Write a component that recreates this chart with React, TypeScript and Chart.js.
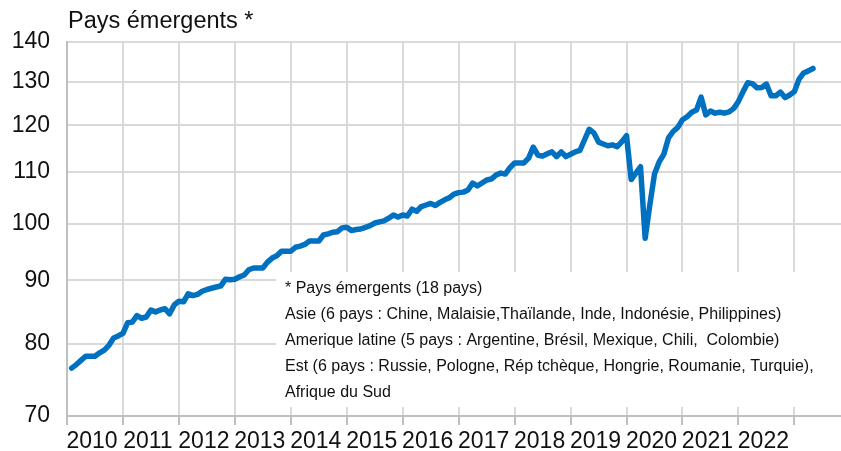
import React, { useEffect, useRef } from "react";
import { Chart, registerables } from "chart.js";

Chart.register(...registerables);

// Monthly index, from Feb 2010 (month 1 after Jan 2010) to May 2023
const firstMonth = 1;
const indexValues: number[] = [
  76.5, 77.0, 77.6, 78.2, 78.2, 78.2, 78.7, 79.1, 79.8, 80.9, 81.2, 81.6,
  83.2, 83.3, 84.3, 83.9, 84.1, 85.2, 84.9, 85.2, 85.4, 84.6, 86.0, 86.6,
  86.5, 87.8, 87.5, 87.7, 88.2, 88.5, 88.7, 88.9, 89.1, 90.2, 90.1, 90.2,
  90.6, 90.9, 91.8, 92.1, 92.1, 92.1, 93.1, 93.8, 94.2, 95.0, 95.0, 95.0,
  95.7, 95.9, 96.2, 96.8, 96.8, 96.8, 97.9, 98.1, 98.4, 98.5, 99.2, 99.3,
  98.7, 98.9, 99.0, 99.3, 99.6, 100.1, 100.3, 100.5, 101.0, 101.6, 101.2, 101.6,
  101.4, 102.7, 102.3, 103.2, 103.5, 103.8, 103.4, 104.0, 104.5, 104.9, 105.6, 105.9,
  106.0, 106.4, 107.8, 107.2, 107.8, 108.4, 108.6, 109.4, 109.8, 109.6, 110.9, 111.9,
  111.9, 111.9, 112.9, 115.2, 113.5, 113.3, 113.8, 114.2, 113.2, 114.2, 113.2, 113.7,
  114.2, 114.5, 116.8, 119.1, 118.3, 116.3, 115.9, 115.5, 115.7, 115.3, 116.4, 117.7,
  108.5, 109.8, 111.1, 97.3, 103.5, 109.6, 112.1, 113.7, 117.2, 118.6, 119.5, 121.2,
  121.9, 122.9, 123.4, 126.4, 122.3, 123.2, 122.7, 122.9, 122.7, 123.0, 123.8, 125.4,
  127.7, 129.8, 129.6, 128.6, 128.7, 129.5, 126.7, 126.7, 127.6, 126.3, 126.9, 127.7,
  130.7, 132.2, 132.7, 133.3,
];

const firstYear = 2010;
const yearLabels: string[] = [
  "2010", "2011", "2012", "2013", "2014", "2015", "2016",
  "2017", "2018", "2019", "2020", "2021", "2022",
];
const yTicks: number[] = [70, 80, 90, 100, 110, 120, 130, 140];

const titleText = "Pays émergents *";
const noteLines: string[] = [
  "* Pays émergents (18 pays)",
  "Asie (6 pays : Chine, Malaisie,Thaïlande, Inde, Indonésie, Philippines)",
  "Amerique latine (5 pays : Argentine, Brésil, Mexique, Chili,  Colombie)",
  "Est (6 pays : Russie, Pologne, Rép tchèque, Hongrie, Roumanie, Turquie),",
  "Afrique du Sud",
];

const FONT = '"Liberation Sans", Arial, sans-serif';
const GRID = "#d9d9d9";
const AXIS = "#bfbfbf";
const TEXT = "#111111";

export default function App() {
  const ref = useRef<HTMLCanvasElement | null>(null);

  useEffect(() => {
    if (!ref.current) return;
    const points = indexValues.map((v, i) => ({ x: firstMonth + i, y: v }));

    const overlay = {
      id: "overlay",
      beforeDatasetsDraw(chart: any) {
        const ctx = chart.ctx;
        ctx.save();
        ctx.fillStyle = "#ffffff";
        ctx.fillRect(276, 272, 841 - 276, 407 - 272);
        ctx.fillStyle = TEXT;
        ctx.font = `16px ${FONT}`;
        ctx.textBaseline = "middle";
        ctx.textAlign = "left";
        noteLines.forEach((t, i) => {
          ctx.fillText(t, 285, 289 + i * 26);
        });
        ctx.restore();
      },
      afterDraw(chart: any) {
        const ctx = chart.ctx;
        ctx.save();
        ctx.fillStyle = TEXT;
        ctx.font = `23.5px ${FONT}`;
        ctx.textBaseline = "alphabetic";
        ctx.textAlign = "left";
        ctx.fillText(titleText, chart.chartArea.left + 1, 28);
        ctx.restore();
      },
    };

    const chart = new Chart(ref.current, {
      type: "line",
      data: {
        datasets: [
          {
            data: points,
            borderColor: "#0070C0",
            borderWidth: 5.5,
            borderJoinStyle: "round",
            borderCapStyle: "round",
            pointRadius: 0,
            tension: 0,
            fill: false,
          },
        ],
      },
      options: {
        animation: false,
        responsive: false,
        maintainAspectRatio: false,
        layout: { padding: { top: 42, left: 0, right: 0, bottom: 0 } },
        plugins: {
          legend: { display: false },
          tooltip: { enabled: false },
          title: { display: false },
        },
        scales: {
          x: {
            type: "linear",
            min: 0,
            max: 166,
            afterFit(scale: any) {
              scale.height = 35;
            },
            afterBuildTicks(scale: any) {
              const t: any[] = [];
              for (let v = 0; v <= yearLabels.length * 12; v += 6) t.push({ value: v });
              scale.ticks = t;
            },
            ticks: {
              autoSkip: false,
              maxRotation: 0,
              minRotation: 0,
              padding: 3,
              labelOffset: -3,
              color: TEXT,
              font: { family: FONT, size: 23 },
              callback(value: any) {
                const v = Number(value);
                if (v % 12 === 6) {
                  const idx = (v - 6) / 12;
                  return yearLabels[idx] ?? String(firstYear + idx);
                }
                return "";
              },
            },
            grid: {
              color: (c: any) => (c.tick && c.tick.value % 12 === 0 ? GRID : "transparent"),
              tickColor: (c: any) => (c.tick && c.tick.value % 12 === 0 ? AXIS : "transparent"),
              lineWidth: 2,
              tickLength: 9,
              drawTicks: true,
            },
            border: { color: AXIS, width: 2 },
          },
          y: {
            type: "logarithmic",
            min: 70,
            max: 140,
            afterFit(scale: any) {
              scale.width = 67;
            },
            afterBuildTicks(scale: any) {
              scale.ticks = yTicks.map((v) => ({ value: v }));
            },
            ticks: {
              padding: 17,
              color: TEXT,
              font: { family: FONT, size: 23 },
              callback(value: any) {
                return String(value);
              },
            },
            grid: {
              color: GRID,
              lineWidth: 2,
              drawTicks: false,
            },
            border: { color: AXIS, width: 2 },
          },
        },
      },
      plugins: [overlay],
    });
    return () => chart.destroy();
  }, []);

  return (
    <div style={{ position: "absolute", left: 0, top: 0, width: 841, height: 451, background: "#fff" }}>
      <canvas ref={ref} width={841} height={451} style={{ width: 841, height: 451, display: "block" }} />
    </div>
  );
}
